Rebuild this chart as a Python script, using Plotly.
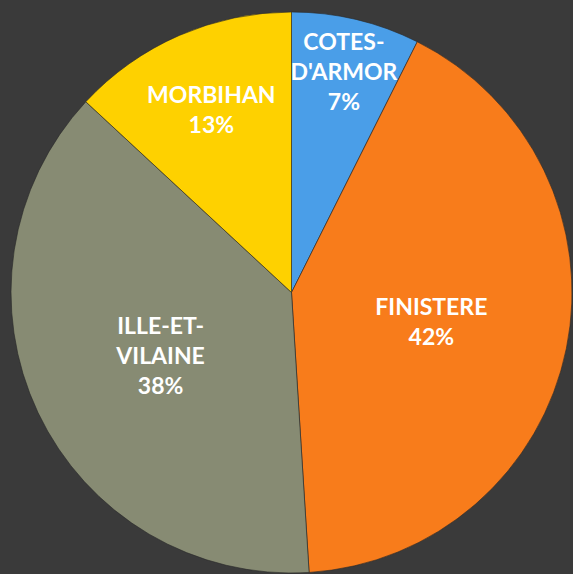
import plotly.graph_objects as go

departements = ["COTES-<br>D'ARMOR", "FINISTERE", "ILLE-ET-<br>VILAINE", "MORBIHAN"]
parts = [7.4, 41.6, 37.9, 13.1]
couleurs = ["#4a9ee8", "#f87c1b", "#878b73", "#fed100"]

fig = go.Figure(go.Pie(
    labels=departements,
    values=parts,
    sort=False,
    direction="clockwise",
    rotation=0,
    marker=dict(colors=couleurs, line=dict(color="rgba(40,40,40,0.6)", width=1)),
    texttemplate="%{label}<br>%{percent:.0%}",
    textposition="inside",
    insidetextorientation="horizontal",
    textfont=dict(family="Lato", size=23, color="white", weight="bold"),
    showlegend=False,
    hoverinfo="none",
))

fig.update_layout(
    width=583, height=585,
    margin=dict(l=11, r=11, t=12, b=12),
    paper_bgcolor="#3a3a3a",
    plot_bgcolor="#3a3a3a",
    uniformtext=dict(minsize=23, mode="show"),
)

fig.write_html(
    "out.html",
    config={"displayModeBar": False},
    post_script="document.body.style.margin='0';document.body.style.overflow='hidden';document.documentElement.style.overflow='hidden';",
)
